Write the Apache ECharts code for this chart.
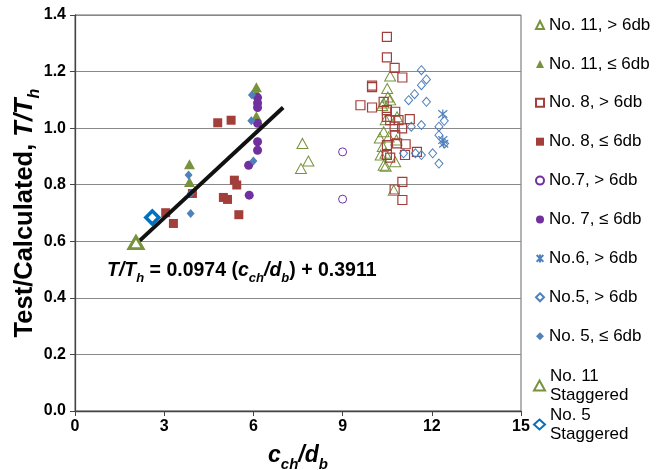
<!DOCTYPE html>
<html><head><meta charset="utf-8">
<script src="https://cdn.jsdelivr.net/npm/echarts@6/dist/echarts.min.js"></script>
<style>html,body{margin:0;padding:0;background:#fff}#c{width:667px;height:470px}</style>
</head><body><div id="c"></div>
<script>
// ---- data ----
var xTicks = [0, 3, 6, 9, 12, 15];
var yTicks = [0.0, 0.2, 0.4, 0.6, 0.8, 1.0, 1.2, 1.4];

var no11Gt = [[7.65,0.946],[7.85,0.884],[7.6,0.857],
  [10.6,1.184],[10.5,1.14],[10.52,1.11],[10.6,1.10],[10.38,1.089],[10.33,1.08],
  [10.83,1.04],[10.45,1.03],[10.38,0.987],[10.55,0.969],[10.25,0.965],[10.81,0.958],
  [10.35,0.935],[10.44,0.911],[10.28,0.905],[10.38,0.869],[10.45,0.865],[10.77,0.881],[10.72,0.78]];
var no11Le = [[3.85,0.872],[3.85,0.81],[6.1,1.145],[6.1,1.125],[6.1,1.042]];
var no8Gt = [[10.49,1.323],[10.49,1.25],[10.75,1.213],[11.01,1.179],[9.99,1.15],[9.99,1.145],
  [9.6,1.081],[9.99,1.073],[10.38,1.093],[10.49,1.064],[10.49,1.04],[10.77,1.058],
  [10.6,1.028],[10.88,1.028],[11.26,1.032],[10.75,1.005],[11.0,0.999],[10.77,0.975],
  [10.83,0.946],[11.12,0.943],[10.49,0.94],[11.1,0.905],[11.5,0.916],[10.49,0.905],
  [10.6,0.896],[11.01,0.81],[10.75,0.783],[11.01,0.746]];
var no8Le = [[4.8,1.019],[5.25,1.028],[3.95,0.769],[3.05,0.701],[3.31,0.663],[5.36,0.816],
  [5.44,0.799],[4.99,0.755],[5.13,0.748],[5.51,0.694]];
var no7Gt = [[9.0,0.916],[9.0,0.749]];
var no7Le = [[6.14,1.108],[6.14,1.089],[6.14,1.073],[6.14,1.017],[6.14,0.952],[6.14,0.922],
  [5.84,0.869],[5.86,0.763]];
var no6Gt = [[12.37,1.05],[12.37,0.958],[12.4,0.945]];
var no5Gt = [[11.65,1.205],[11.82,1.172],[11.65,1.152],[11.42,1.12],[11.22,1.099],[11.82,1.093],
  [11.31,1.005],[11.65,1.011],[12.24,1.005],[12.42,1.026],[12.24,0.975],[12.43,0.946],
  [11.05,0.911],[11.45,0.911],[11.65,0.905],[12.03,0.911],[12.24,0.875]];
var no5Le = [[5.95,1.117],[5.93,1.026],[6.0,0.884],[3.82,0.834],[3.89,0.769],[3.89,0.698]];
var no11Stag = [[2.05,0.595]];
var no5Stag = [[2.6,0.684]];
var fitLine = [[2.05,0.59],[7.0,1.073]];

var names = ['No. 11, > 6db','No. 11, \u2264 6db','No. 8, > 6db','No. 8, \u2264 6db','No.7, > 6db',
  'No. 7, \u2264 6db','No.6, > 6db','No.5, > 6db','No. 5, \u2264 6db','No. 11 Staggered','No. 5 Staggered'];

var OLIVE='#77933C', RED='#A23F3B', PURPLE='#7030A0', BLUE='#4F81BD', BLUE2='#0070C0';
var clear='rgba(255,255,255,0)';
var FONT='Liberation Sans, Arial';
function sc(name,data,symbol,size,fill,border,bw){
  return {type:'scatter',name:name,data:data,symbol:symbol,symbolSize:size,
    itemStyle:{color:fill,borderColor:border,borderWidth:bw,opacity:1},emphasis:{disabled:true},z:3};
}
var star='path://M0,0L10,10M10,0L0,10M5,-1L5,11';
var series=[
  sc(names[0],no11Gt,'triangle',[11,10],clear,OLIVE,1),
  sc(names[1],no11Le,'triangle',[11,10],OLIVE,OLIVE,0),
  sc(names[2],no8Gt,'rect',9,clear,RED,1.2),
  sc(names[3],no8Le,'rect',9,RED,RED,0),
  sc(names[4],no7Gt,'circle',8,clear,PURPLE,1),
  sc(names[5],no7Le,'circle',9,PURPLE,PURPLE,0),
  sc(names[6],no6Gt,star,9,clear,BLUE,1.2),
  sc(names[7],no5Gt,'diamond',[8,9],clear,BLUE,1),
  sc(names[8],no5Le,'diamond',[8,9],BLUE,BLUE,0),
  {type:'line',name:'fit',data:fitLine,symbol:'none',lineStyle:{color:'#111',width:4},z:4,silent:true},
  sc(names[9],no11Stag,'triangle',[14,12],'#fff',OLIVE,3),
  sc(names[10],no5Stag,'diamond',[13,13],'#fff',BLUE2,3.5)
];
series[10].z=5; series[11].z=5;

var chart=echarts.init(document.getElementById('c'),null,{renderer:'canvas'});
var legText={color:'#000',fontSize:17,fontFamily:FONT,lineHeight:20};
var stagText={color:'#000',fontSize:17,fontFamily:FONT,lineHeight:19,padding:[19,0,0,0]};
chart.setOption({
  animation:false,
  grid:{left:75,right:146,top:15,bottom:59,show:true,borderColor:'#666',borderWidth:1,
    containLabel:false,outerBoundsMode:'none'},
  xAxis:{type:'value',min:0,max:15,interval:3,
    axisLine:{show:true,lineStyle:{color:'#444',width:1.3}},
    axisTick:{show:true,length:5,lineStyle:{color:'#444'}},
    splitLine:{show:false},
    axisLabel:{color:'#000',fontSize:16,fontWeight:'bold',fontFamily:FONT,margin:8,
      formatter:function(v){return xTicks.indexOf(v)>=0?String(v):'';}},
    name:'{i|c}{s|ch}{i|/d}{s|b}',nameLocation:'middle',nameGap:30,nameMoveOverlap:false,
    nameTextStyle:{rich:{
      i:{fontSize:23,fontWeight:'bold',fontStyle:'italic',fontFamily:FONT,color:'#000',verticalAlign:'bottom',lineHeight:26},
      s:{fontSize:15,fontWeight:'bold',fontStyle:'italic',fontFamily:FONT,color:'#000',verticalAlign:'bottom',lineHeight:20,padding:[0,0,-5,0]}}}
  },
  yAxis:{type:'value',min:0,max:1.4,interval:0.2,
    axisLine:{show:true,lineStyle:{color:'#444',width:1.3}},
    axisTick:{show:true,length:5,lineStyle:{color:'#444'}},
    splitLine:{show:true,lineStyle:{color:'#888',width:1}},
    axisLabel:{color:'#000',fontSize:16,fontWeight:'bold',fontFamily:FONT,margin:9,
      formatter:function(v){return yTicks.some(function(t){return Math.abs(t-v)<1e-6;})?v.toFixed(1):'';}},
    name:'{b|Test/Calculated, }{i|T/T}{s|h}',nameLocation:'middle',nameGap:37,nameMoveOverlap:false,
    nameTextStyle:{rich:{
      b:{fontSize:25.5,fontWeight:'bold',fontFamily:FONT,color:'#000',verticalAlign:'bottom',lineHeight:28},
      i:{fontSize:25.5,fontWeight:'bold',fontStyle:'italic',fontFamily:FONT,color:'#000',verticalAlign:'bottom',lineHeight:28},
      s:{fontSize:16,fontWeight:'bold',fontStyle:'italic',fontFamily:FONT,color:'#000',verticalAlign:'bottom',lineHeight:22,padding:[0,0,-5,0]}}}
  },
  legend:[
    {data:names.slice(0,9),orient:'vertical',left:530,top:10,itemWidth:8,itemHeight:8,itemGap:18.9,
      selectedMode:false,textStyle:legText},
    {data:[names[9]],orient:'vertical',left:528,top:352,itemWidth:11,itemHeight:10,selectedMode:false,
      formatter:function(){return 'No. 11\nStaggered';},textStyle:stagText},
    {data:[names[10]],orient:'vertical',left:528,top:391,itemWidth:11,itemHeight:10,selectedMode:false,
      formatter:function(){return 'No. 5\nStaggered';},textStyle:stagText}
  ],
  graphic:[{type:'text',left:107,top:261,z:10,style:{
    text:'{i|T/T}{s|h}{b| = 0.0974 (}{i|c}{s|ch}{i|/d}{s|b}{b|) + 0.3911}',
    rich:{
      b:{fontSize:19.5,fontWeight:'bold',fontFamily:FONT,fill:'#000',verticalAlign:'bottom',lineHeight:22},
      i:{fontSize:19.5,fontWeight:'bold',fontStyle:'italic',fontFamily:FONT,fill:'#000',verticalAlign:'bottom',lineHeight:22},
      s:{fontSize:13,fontWeight:'bold',fontStyle:'italic',fontFamily:FONT,fill:'#000',verticalAlign:'bottom',lineHeight:16,padding:[0,0,-4,0]}
    }}}],
  series:series
});
</script></body></html>
